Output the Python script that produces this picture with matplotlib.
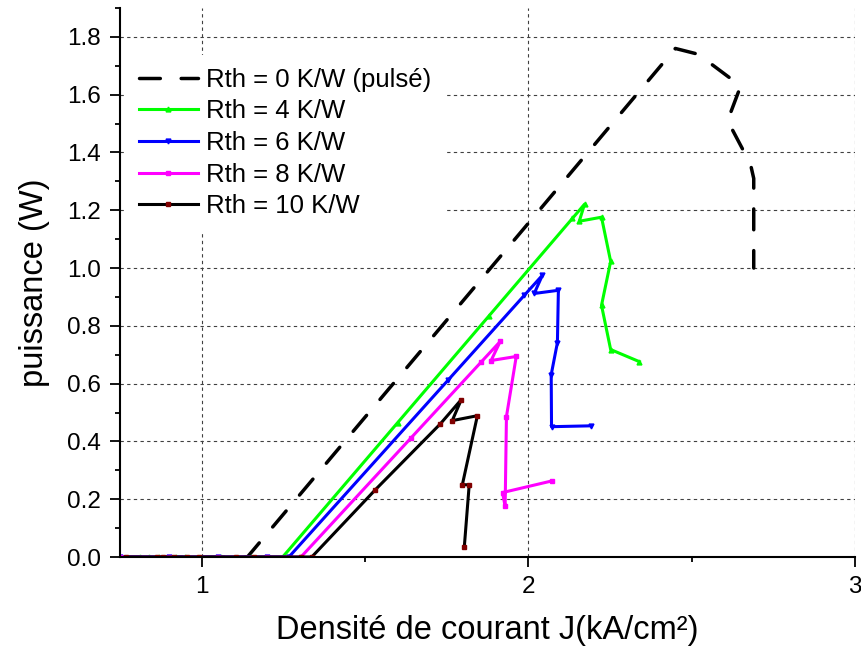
import matplotlib
matplotlib.use('Agg')
import matplotlib.pyplot as plt
from matplotlib.ticker import MultipleLocator, FormatStrFormatter

plt.rcParams['font.family'] = ['Liberation Sans', 'DejaVu Sans']

# puissance en fonction de la densité de courant, pour plusieurs Rth
j_0 = [0.75, 0.95, 1.14, 1.60, 2.00, 2.45, 2.52, 2.65, 2.61, 2.68, 2.69, 2.69]
p_0 = [0.0, 0.0, 0.0, 0.618, 1.155, 1.76, 1.74, 1.63, 1.51, 1.36, 1.31, 1.00]

j_4 = [0.75, 0.81, 0.84, 0.87, 0.92, 0.95, 1.06, 1.15, 1.248, 1.60, 1.88,
       2.135, 2.172, 2.156, 2.224, 2.252, 2.224, 2.252, 2.340]
p_4 = [0.0, 0.0, 0.0, 0.0, 0.0, 0.0, 0.0, 0.0, 0.0, 0.465, 0.835,
       1.172, 1.221, 1.162, 1.176, 1.023, 0.871, 0.718, 0.676]

j_6 = [0.75, 0.90, 1.05, 1.20, 1.267, 1.755, 1.988, 2.043, 2.018, 2.092,
       2.089, 2.070, 2.071, 2.193]
p_6 = [0.0, 0.0, 0.0, 0.0, 0.0, 0.613, 0.906, 0.975, 0.912, 0.923,
       0.742, 0.631, 0.451, 0.454]

j_8 = [0.75, 0.90, 1.05, 1.20, 1.304, 1.640, 1.855, 1.914, 1.886, 1.963,
       1.933, 1.929, 1.921, 2.071]
p_8 = [0.0, 0.0, 0.0, 0.0, 0.0, 0.411, 0.674, 0.746, 0.680, 0.694,
       0.486, 0.175, 0.223, 0.263]

j_10 = [0.767, 0.862, 0.883, 0.914, 0.954, 0.991, 1.104, 1.160, 1.304, 1.337,
        1.531, 1.730, 1.795, 1.767, 1.844, 1.798, 1.819, 1.804]
p_10 = [0.0, 0.0, 0.0, 0.0, 0.0, 0.0, 0.0, 0.0, 0.0, 0.0,
        0.232, 0.46, 0.545, 0.472, 0.489, 0.250, 0.250, 0.035]

labels = ['Rth = 0 K/W (pulsé)', 'Rth = 4 K/W', 'Rth = 6 K/W',
          'Rth = 8 K/W', 'Rth = 10 K/W']

fig = plt.figure(figsize=(8.62, 6.52), dpi=100)
ax = fig.add_axes([120 / 862, 95 / 652, 735 / 862, 549 / 652])

ax.plot(j_0, p_0, color='black', lw=2.5, dashes=(6, 6),
        dash_capstyle='round', label=labels[0])
ax.plot(j_4, p_4, color='#00ff00', lw=2.2, marker='^', ms=3.5,
        label=labels[1])
ax.plot(j_6, p_6, color='#0000ff', lw=2.2, marker='v', ms=3.5,
        label=labels[2])
ax.plot(j_8, p_8, color='#ff00ff', lw=2.2, marker='s', ms=2.5,
        label=labels[3])
ax.plot(j_10, p_10, color='black', lw=2.2, marker='s', ms=2.5,
        mfc='#800000', mec='#800000', label=labels[4])

ax.set_xlim(0.75, 3.0)
ax.set_ylim(0.0, 1.9)
ax.xaxis.set_major_locator(MultipleLocator(1))
ax.xaxis.set_minor_locator(MultipleLocator(0.5))
ax.yaxis.set_major_locator(MultipleLocator(0.2))
ax.yaxis.set_minor_locator(MultipleLocator(0.1))
ax.yaxis.set_major_formatter(FormatStrFormatter('%.1f'))

ax.spines['top'].set_visible(False)
ax.spines['right'].set_visible(False)
for s in ['left', 'bottom']:
    ax.spines[s].set_linewidth(1.5)
ax.tick_params(which='major', length=7, width=1.3, labelsize=17.5, pad=7)
ax.tick_params(which='minor', length=3.5, width=1.3)

ax.grid(True, which='major', color='0.25', lw=0.8, linestyle=(0, (3, 3)))

ax.set_xlabel('Densité de courant J(kA/cm²)', fontsize=23.5, labelpad=12)
ax.set_ylabel('puissance (W)', fontsize=23.5, labelpad=12)

leg = ax.legend(loc='upper left', bbox_to_anchor=(0.008, 0.915), fontsize=18.5,
                frameon=True, facecolor='white', edgecolor='none',
                framealpha=1, fancybox=False, borderpad=0.5,
                handlelength=2.3, handletextpad=0.3, labelspacing=0.3,
                numpoints=1, borderaxespad=0)

fig.savefig('out.png', dpi=100)
